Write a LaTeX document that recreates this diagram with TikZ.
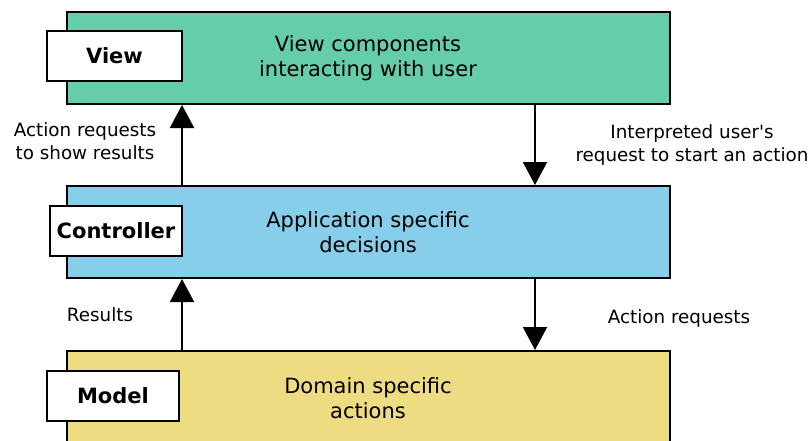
\documentclass[tikz,border=0pt]{standalone}
\usepackage{fontspec}
\setmainfont{DejaVu Sans}
\usetikzlibrary{arrows.meta}
\definecolor{viewc}{HTML}{66CDAA}
\definecolor{ctrlc}{HTML}{87CEEB}
\definecolor{modelc}{HTML}{EEDC82}
\tikzset{
  layer/.style={draw=black, line width=2pt, minimum width=603pt, minimum height=92pt, anchor=north west, inner sep=0pt},
  tag/.style={draw=black, fill=white, line width=2pt, minimum height=50pt, inner sep=0pt, font=\fontsize{21}{25}\selectfont\bfseries},
  body/.style={align=center, font=\fontsize{21}{25}\selectfont},
  lbl/.style={align=center, font=\fontsize{18.3}{23}\selectfont},
  arr/.style={line width=2pt, -{Triangle[width=24pt,length=23pt]}}
}
\begin{document}
\begin{tikzpicture}[x=1pt,y=-1pt]
\useasboundingbox (0,0) rectangle (808,440);
\clip (0,0) rectangle (808,440);
\node[layer, fill=viewc] (view) at (66,11) {};
\node[layer, fill=ctrlc] (ctrl) at (66,185) {};
\node[layer, fill=modelc] (model) at (66,350) {};
\node[body] (viewtxt) at (368,58) {View components\\interacting with user};
\node[body] (ctrltxt) at (368,232) {Application specific\\decisions};
\node[body] (modeltxt) at (368,398) {Domain specific\\actions};
\node[tag, minimum width=135pt] (viewtag) at (114.5,56) {View};
\node[tag, minimum width=132pt] (ctrltag) at (116,231) {Controller};
\node[tag, minimum width=132pt] (modeltag) at (113,396) {Model};
\draw[arr] ([xshift=116pt]ctrl.north west) -- ([xshift=116pt]view.south west);
\draw[arr] ([xshift=116pt]model.north west) -- ([xshift=116pt]ctrl.south west);
\draw[arr] ([xshift=469pt]view.south west) -- ([xshift=469pt]ctrl.north west);
\draw[arr] ([xshift=469pt]ctrl.south west) -- ([xshift=469pt]model.north west);
\node[lbl] (l1) at (85,141) {Action requests\\to show results};
\node[lbl] (l2) at (692,145) {Interpreted user\textquotesingle s\\request to start an action};
\node[lbl] (l3) at (100,315) {Results};
\node[lbl] (l4) at (679,318) {Action requests};
\end{tikzpicture}
\end{document}
